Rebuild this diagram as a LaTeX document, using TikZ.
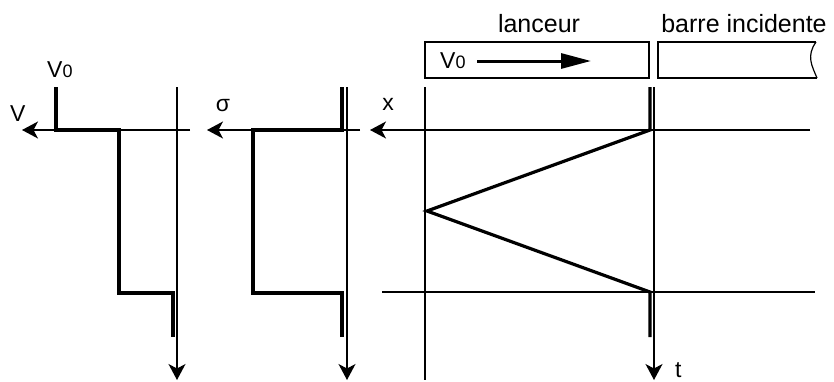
\documentclass[tikz,border=0pt]{standalone}
\usepackage{fontspec}
\setmainfont{Liberation Sans}
\usetikzlibrary{arrows.meta}
\tikzset{
  axe/.style={line width=1.2pt, -{Stealth[length=16pt,width=17pt,inset=4.5pt]}},
  fin/.style={line width=1.2pt},
  trace/.style={line width=3.2pt, line join=miter},
  boite/.style={line width=1.4pt},
  lab/.style={font=\fontsize{23}{26}\selectfont, inner sep=0pt},
  titre/.style={font=\fontsize{25}{30}\selectfont, inner sep=0pt, anchor=base},
  vit/.style={line width=3pt, -{Triangle[length=30pt,width=15pt]}},
}
\newcommand{\Vzero}{V{\fontsize{18}{20}\selectfont 0}}

\begin{document}
\begin{tikzpicture}[x=1pt, y=-1pt]
    \useasboundingbox (0,0) rectangle (834,381);
    % vitesse
    \coordinate (vd) at (190,130);
    \coordinate (vf) at (22,130);
    \coordinate (ta) at (177,87);
    \coordinate (tb) at (177,380);
    \draw[axe] (vd) -- (vf);
    \draw[axe] (ta) -- (tb);
    \draw[trace] (56,87) -- (56,130) -- (119,130) -- (119,293) -- (173,293) -- (173,337);
    \node[lab, anchor=base west] (lV0) at (47,77) {\Vzero};
    \node[lab, anchor=base west] (lV) at (10,121) {V};
    % contrainte
    \coordinate (sd) at (360,130);
    \coordinate (sf) at (207,130);
    \coordinate (sa) at (347,87);
    \coordinate (sb) at (347,380);
    \draw[axe] (sd) -- (sf);
    \draw[axe] (sa) -- (sb);
    \draw[trace] (342,87) -- (342,130) -- (253,130) -- (253,293) -- (342,293) -- (342,337);
    \node[lab, anchor=base] (lsig) at (223,111) {σ};
    % diagramme x-t
    \coordinate (xd) at (810,130);
    \coordinate (xf) at (370,130);
    \coordinate (xa) at (654,87);
    \coordinate (xb) at (654,380);
    \coordinate (ga) at (425,87);
    \coordinate (gb) at (425,380);
    \coordinate (ha) at (382,292);
    \coordinate (hb) at (815,292);
    \draw[axe] (xd) -- (xf);
    \draw[axe] (xa) -- (xb);
    \draw[fin] (ga) -- (gb);
    \draw[fin] (ha) -- (hb);
    \draw[trace] (650,87) -- (650,130) -- (427,211) -- (650,292) -- (650,337);
    \node[lab, anchor=base] (lx) at (388,110) {x};
    \node[lab, anchor=base west] (lt) at (675,377) {t};
    % barres
    \node[titre] (llanceur) at (539,32) {lanceur};
    \node[titre] (lbarre) at (744,32) {barre incidente};
    \draw[boite] (425,42) rectangle (649,78);
    \draw[boite] (816,42) -- (658,42) -- (658,78) -- (817,78);
    \draw[fin] (816,42) .. controls (806,56) and (812,66) .. (817,78);
    \node[lab, anchor=base west] (lV0b) at (440,68) {\Vzero};
    \coordinate (va) at (477,61);
    \coordinate (vb) at (591,61);
    \draw[vit] (va) -- (vb);
\end{tikzpicture}
\end{document}
